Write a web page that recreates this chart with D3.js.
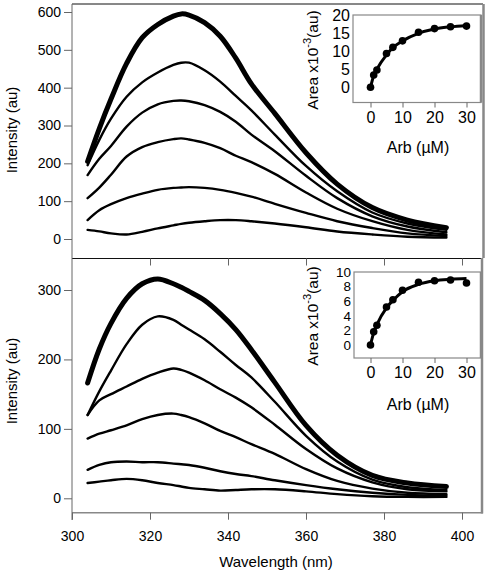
<!DOCTYPE html>
<html><head><meta charset="utf-8">
<script src="https://cdn.jsdelivr.net/npm/d3@7"></script>
<style>body{margin:0;background:#fff}svg{display:block}text{font-family:Arial,"Liberation Sans",sans-serif;fill:#000}</style>
</head><body>
<svg id="c" width="488" height="576"></svg>
<script>
// ---- data ----
const wavelengths = [304,307,310,314,318,322,326,328,330,334,338,342,346,352,360,368,377,386,396];
const topSeries = [
  [205,292,370,464,532,567,589,595,592,572,536,478,410,332,228,145,83,50,30],
  [195,262,318,376,414,440,460,466,466,446,416,378,340,276,193,126,70,41,24],
  [169,212,246,297,334,356,365,366,364,354,336,310,276,232,167,108,60,33,18],
  [108,136,170,218,243,256,264,266,263,254,240,220,203,172,123,80,47,24,12],
  [50,76,92,108,120,130,135,136,137,135,130,122,112,93,69,47,29,15,8],
  [24,20,15,12,19,28,36,40,43,47,50,50,47,41,31,20,12,6,4]
];
const bottomSeries = [
  [166,215,252,288,309,316,309,304,298,285,266,243,214,167,105,62,33,22,17],
  [120,154,184,222,250,262,257,250,243,229,211,192,174,139,90,53,27,16,12],
  [120,141,150,161,172,181,187,185,181,170,157,145,131,106,71,43,23,13,10],
  [86,93,98,105,114,120,122,120,117,108,97,88,78,64,42,25,14,8,6],
  [41,48,52,53,52,52,50,49,48,44,39,35,32,26,19,13,8,5,4],
  [22,24,26,28,26,22,19,17,15,13,11,12,13,13,10,6,3,2,2]
];
const arb = [0,1,2,5,7,10,15,20,25,30];
const topArea = [0,3.4,4.8,9.4,11.1,12.9,15.3,16.3,16.8,17.0];
const topFit = [0,3.2,5.0,9.0,11.0,12.9,15.0,16.2,16.8,17.2];
const bottomArea = [0,1.8,2.7,5.2,6.2,7.5,8.6,8.8,8.9,8.5];
const bottomFit = [0,1.7,2.8,5.1,6.1,7.3,8.3,8.8,9.0,9.1];
const xTicks = [300,320,340,360,380,400];
const topYTicks = [0,100,200,300,400,500,600];
const bottomYTicks = [0,100,200,300];
const topInsetYTicks = [0,5,10,15,20];
const bottomInsetYTicks = [0,2,4,6,8,10];
const insetXTicks = [0,10,20,30];

// ---- drawing ----
const svg = d3.select("#c");
const axisGray = "#666";
const x = d3.scaleLinear().domain([300,400]).range([72,462]);
const yTop = d3.scaleLinear().domain([0,600]).range([239,12]);
const yBot = d3.scaleLinear().domain([0,300]).range([498.3,290]);
const L = 72, R = 483;

function styleAxis(g, fs){
  g.select(".domain").remove();
  g.selectAll(".tick line").attr("stroke", axisGray);
  g.selectAll(".tick text").style("font-size", fs+"px").attr("fill","#000");
}

// frames
svg.append("line").attr("x1",L).attr("x2",R).attr("y1",4).attr("y2",4).attr("stroke","#111");
svg.append("line").attr("x1",L).attr("x2",R).attr("y1",258.5).attr("y2",258.5).attr("stroke","#111");
svg.append("line").attr("x1",L).attr("x2",R).attr("y1",512.7).attr("y2",512.7).attr("stroke","#888").attr("stroke-width",1.5);
svg.append("line").attr("x1",L).attr("x2",L).attr("y1",4).attr("y2",520).attr("stroke",axisGray);
svg.append("line").attr("x1",R+0.5).attr("x2",R+0.5).attr("y1",4).attr("y2",258).attr("stroke","#888").attr("stroke-width",2.5);
svg.append("line").attr("x1",R-1).attr("x2",R-1).attr("y1",258).attr("y2",513.5).attr("stroke","#888").attr("stroke-width",2.5);

// y axes
svg.append("g").attr("transform",`translate(${L},0)`)
  .call(d3.axisLeft(yTop).tickValues(topYTicks).tickSize(8).tickPadding(3).tickFormat(d3.format("d")))
  .call(g=>styleAxis(g,14));
svg.append("g").attr("transform",`translate(${L},0)`)
  .call(d3.axisLeft(yBot).tickValues(bottomYTicks).tickSize(8).tickPadding(3).tickFormat(d3.format("d")))
  .call(g=>styleAxis(g,14));
// x axes
svg.append("g").attr("transform","translate(0,258.5)")
  .call(d3.axisBottom(x).tickValues(xTicks.slice(1)).tickSize(7).tickFormat(""))
  .call(g=>styleAxis(g,14));
svg.append("g").attr("transform","translate(0,512.7)")
  .call(d3.axisBottom(x).tickValues(xTicks).tickSize(7).tickPadding(11).tickFormat(d3.format("d")))
  .call(g=>styleAxis(g,14));

// axis titles
svg.append("text").attr("transform","translate(17,130) rotate(-90)").attr("text-anchor","middle").style("font-size","15px").text("Intensity (au)");
svg.append("text").attr("transform","translate(17,381) rotate(-90)").attr("text-anchor","middle").style("font-size","15px").text("Intensity (au)");
svg.append("text").attr("x",276).attr("y",567).attr("text-anchor","middle").style("font-size","15px").text("Wavelength (nm)");

// spectra
function drawSpectra(series, y){
  const line = d3.line().x((d,i)=>x(wavelengths[i])).y(d=>y(d)).curve(d3.curveCatmullRom.alpha(0.5));
  const g = svg.append("g");
  series.slice().reverse().forEach((s,k)=>{
    const idx = series.length-1-k;
    g.append("path").attr("d",line(s)).attr("fill","none").attr("stroke","#000")
     .attr("stroke-width", idx===0?5:2.4).attr("stroke-linecap","round").attr("stroke-linejoin","round");
  });
}
drawSpectra(topSeries, yTop);
drawSpectra(bottomSeries, yBot);

// insets
function inset(box, yDomRange, yTicks, yFs, area, fit, labelCy, xLabY){
  const xi = d3.scaleLinear().domain([0,30]).range([370.5,466.5]);
  const yi = d3.scaleLinear().domain(yDomRange[0]).range(yDomRange[1]);
  svg.append("rect").attr("x",box[0]).attr("y",box[1]).attr("width",box[2]-box[0]).attr("height",box[3]-box[1])
    .attr("fill","#fff").attr("stroke","#888").attr("stroke-width",1.2);
  svg.append("line").attr("x1",box[2]).attr("x2",box[2]).attr("y1",box[1]).attr("y2",box[3]).attr("stroke","#888").attr("stroke-width",2.5);
  svg.append("g").attr("transform",`translate(${box[0]},0)`)
    .call(d3.axisLeft(yi).tickValues(yTicks).tickSize(0).tickPadding(3).tickFormat(d3.format("d")))
    .call(g=>styleAxis(g,yFs));
  svg.append("g").attr("transform",`translate(0,${box[3]})`)
    .call(d3.axisBottom(xi).tickValues(insetXTicks).tickSize(5).tickPadding(4).tickFormat(d3.format("d")))
    .call(g=>styleAxis(g,16));
  const ln = d3.line().x((d,i)=>xi(arb[i])).y(d=>yi(d)).curve(d3.curveMonotoneX);
  svg.append("path").attr("d",ln(fit)).attr("fill","none").attr("stroke","#000").attr("stroke-width",3);
  svg.selectAll(null).data(area).enter().append("circle")
    .attr("cx",(d,i)=>xi(arb[i])).attr("cy",d=>yi(d)).attr("r",3.8).attr("fill","#000");
  svg.append("text").attr("x",418).attr("y",xLabY).attr("text-anchor","middle").style("font-size","16px").text("Arb (µM)");
  const t = svg.append("text").attr("transform",`translate(318,${labelCy}) rotate(-90)`).attr("text-anchor","middle").style("font-size","15.5px");
  t.append("tspan").text("Area x10");
  t.append("tspan").attr("dy",-7).style("font-size","11px").text("-3");
  t.append("tspan").attr("dy",7).text("(au)");
}
inset([353,15,481,102.5], [[0,20],[87.3,15.3]], topInsetYTicks, 16, topArea, topFit, 60, 153);
inset([354,272,481,358], [[0,10],[345,272]], bottomInsetYTicks, 13.5, bottomArea, bottomFit, 316, 410);
</script>
</body></html>
